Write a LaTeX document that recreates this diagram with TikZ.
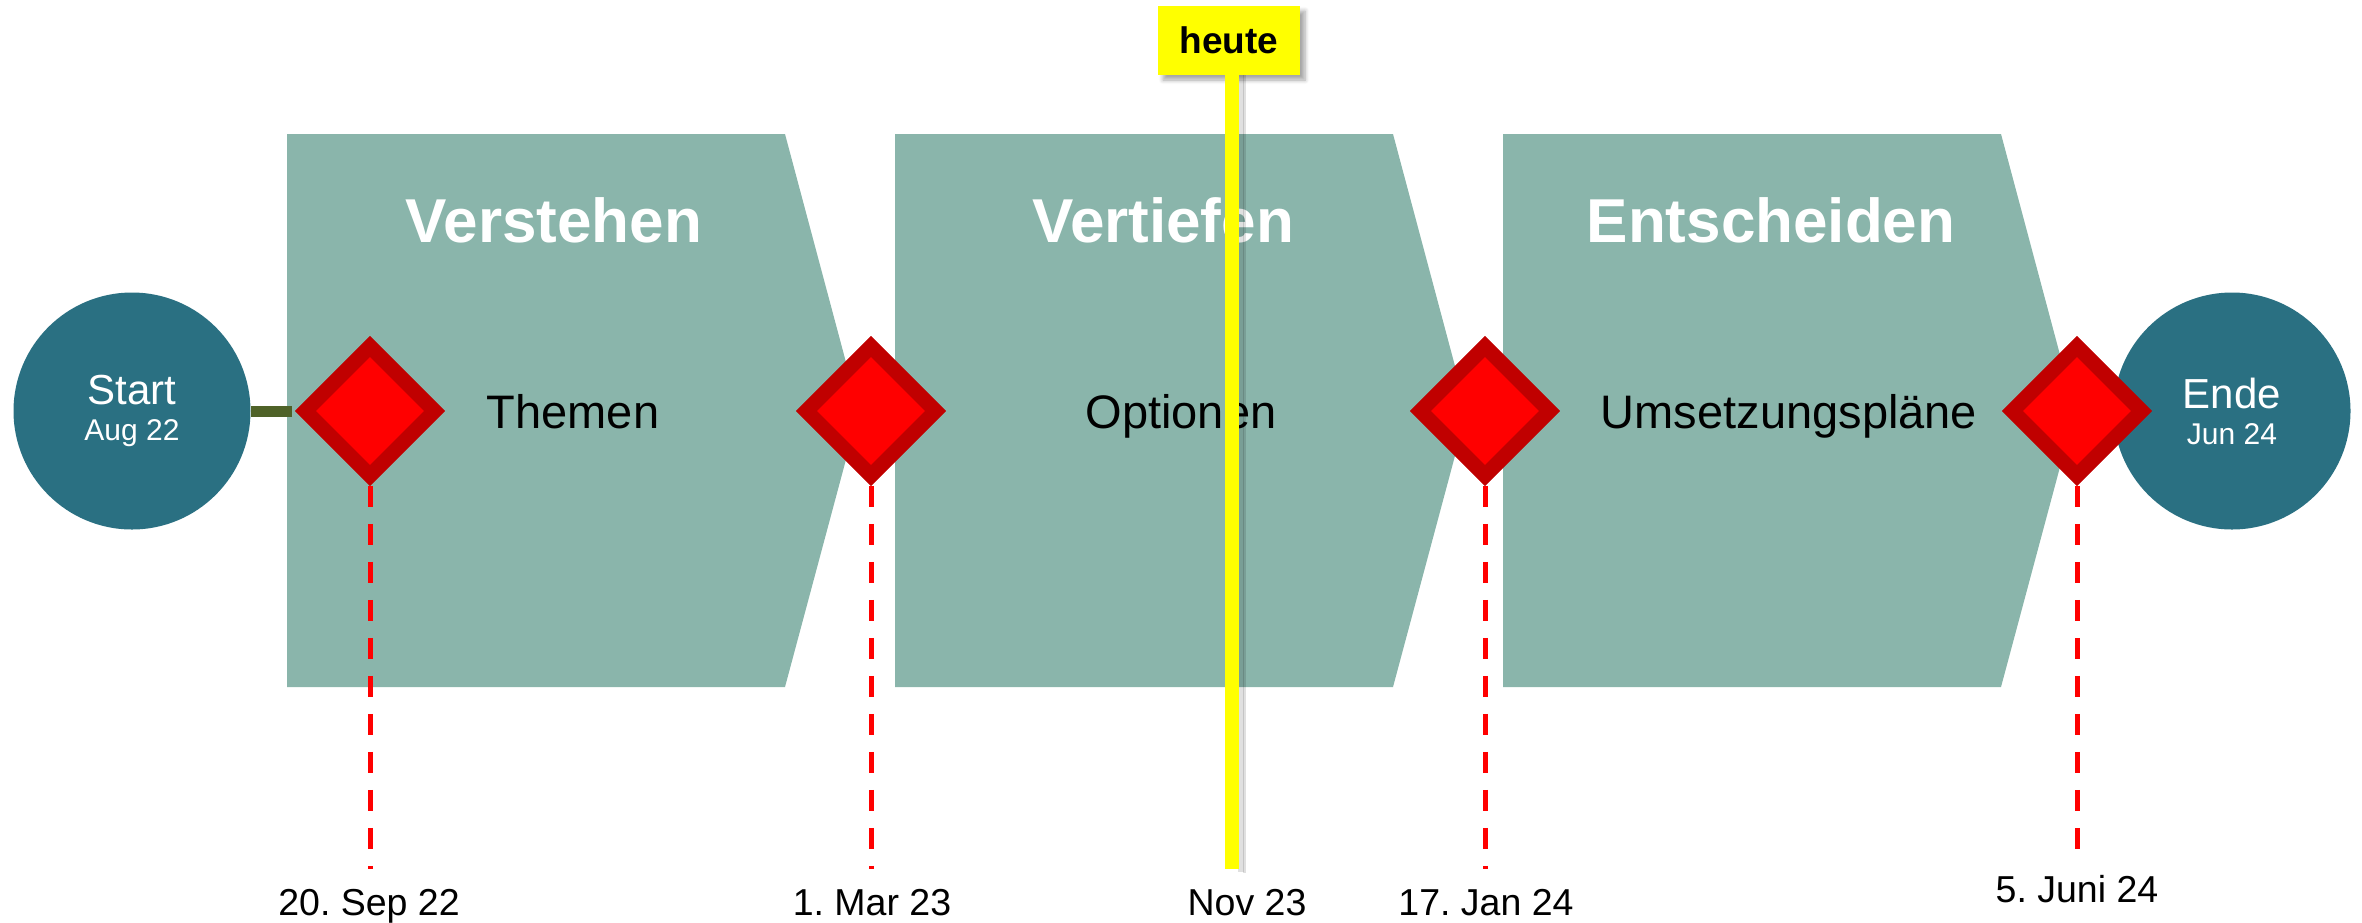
\documentclass[tikz,border=0pt]{standalone}
\usepackage{fontspec}
\setmainfont{Liberation Sans}
\usetikzlibrary{shapes.geometric,shadows.blur,calc}
\definecolor{phase}{HTML}{8AB5AB}
\definecolor{circfill}{HTML}{2A7082}
\definecolor{msborder}{HTML}{C00000}
\definecolor{conncol}{HTML}{4F6228}
\definecolor{todaycol}{HTML}{FFFF00}
\frenchspacing
\begin{document}
\begin{tikzpicture}[x=0.5pt,y=-0.5pt,
  phasebox/.style={fill=phase},
  phasetitle/.style={text=white, font=\bfseries\fontsize{31}{31}\selectfont, anchor=base, inner sep=0pt},
  phasesub/.style={font=\fontsize{23.5}{24}\selectfont, anchor=base, inner sep=0pt},
  endpt/.style={circle, fill=circfill, minimum size=118.5pt, inner sep=0pt, text=white, align=center, font=\fontsize{21}{20}\selectfont},
  milestone/.style={diamond, fill=red, draw=msborder, line width=7.3pt, minimum width=67.5pt, minimum height=67.5pt, inner sep=0pt},
  msline/.style={red, line width=2.5pt, dash pattern=on 10.5pt off 8.5pt},
  datelbl/.style={font=\fontsize{18.75}{19}\selectfont, anchor=base, inner sep=0pt},
  startconn/.style={conncol, line width=5.5pt},
  todayline/.style={todaycol, line width=7pt},
  todayshadow/.style={black, opacity=0.12, line width=3pt},
  heutebox/.style={fill=todaycol, minimum width=71pt, minimum height=34.5pt, inner sep=0pt,
    font=\bfseries\fontsize{18.5}{19}\selectfont,
    blur shadow={shadow xshift=2.5pt, shadow yshift=-2.5pt, shadow blur steps=6, shadow opacity=35}}
]
\useasboundingbox (0,0) rectangle (2362,922);

% phase chevrons
\fill[phasebox] (287,134) -- (785,134) -- (859,411) -- (785,687) -- (287,687) -- cycle;
\fill[phasebox] (895,134) -- (1393,134) -- (1467,411) -- (1393,687) -- (895,687) -- cycle;
\fill[phasebox] (1503,134) -- (2001,134) -- (2075,411) -- (2001,687) -- (1503,687) -- cycle;

\node[phasetitle] (t1) at (554,242) {Verstehen};
\node[phasetitle] (t2) at (1163,242) {Vertiefen};
\node[phasetitle] (t3) at (1771,242) {Entscheiden};

\node[phasesub] (s1) at (573,428) {Themen};
\node[phasesub] (s2) at (1181,428) {Optionen};
\node[phasesub] (s3) at (1789,428) {Umsetzungspläne};

% start / end
\node[endpt] (start) at (132,411) {Start\\[-2pt]{\fontsize{15}{18}\selectfont Aug 22}};
\node[endpt] (ende) at (2232,411) {Ende\\[-2pt]{\fontsize{15}{18}\selectfont Jun 24}};
\coordinate (c1w) at (292,411);
\draw[startconn] (start.east) -- (c1w);

% milestone lines
\coordinate (e1) at (370,869);
\coordinate (e2) at (871,869);
\coordinate (e3) at (1485,869);
\coordinate (e4) at (2077,855);
\node[milestone] (d1) at (370,411) {};
\node[milestone] (d2) at (871,411) {};
\node[milestone] (d3) at (1485,411) {};
\node[milestone] (d4) at (2077,411) {};
\draw[msline] (d1.south) -- (e1);
\draw[msline] (d2.south) -- (e2);
\draw[msline] (d3.south) -- (e3);
\draw[msline] (d4.south) -- (e4);
\node[milestone] at (d1) {};
\node[milestone] at (d2) {};
\node[milestone] at (d3) {};
\node[milestone] at (d4) {};

% today marker
\coordinate (todayend) at (1232,869);
\node[heutebox] (heute) at (1229,40.5) {heute};
\draw[todayshadow] ($(heute.south -| todayend)+(9,0)$) -- ($(todayend)+(9,3)$);
\draw[todayshadow, line width=1.5pt] ($(heute.south -| todayend)+(12,0)$) -- ($(todayend)+(12,4)$);
\draw[todayline] (heute.south -| todayend) -- (todayend);

% date labels
\node[datelbl] (l1) at (369,915) {20. Sep 22};
\node[datelbl] (l2) at (872,915) {1. Mar 23};
\node[datelbl] (l3) at (1247,915) {Nov 23};
\node[datelbl] (l4) at (1486,915) {17. Jan 24};
\node[datelbl] (l5) at (2077,902) {5. Juni 24};
\end{tikzpicture}
\end{document}
